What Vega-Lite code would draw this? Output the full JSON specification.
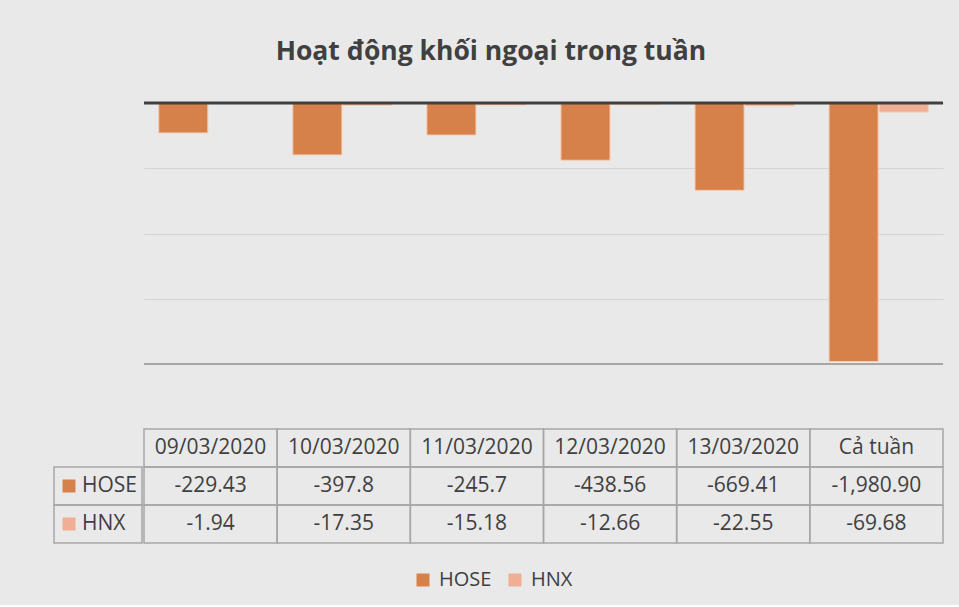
{
  "$schema": "https://vega.github.io/schema/vega-lite/v6.json",
  "background": "#e9e9e9",
  "padding": {"left": 53, "top": 39, "right": 17, "bottom": 15},
  "config": {"view": {"stroke": null}, "font": "Open Sans"},
  "title": {"text": "Hoạt động khối ngoại trong tuần", "fontSize": 26.5, "fontWeight": "bold", "color": "#404040", "font": "Open Sans", "anchor": "middle", "offset": 36, "dx": -8},
  "datasets": {
    "flows": [
      {"date": "09/03/2020", "series": "HOSE", "value": -229.43, "label": "-229.43"},
      {"date": "10/03/2020", "series": "HOSE", "value": -397.8, "label": "-397.8"},
      {"date": "11/03/2020", "series": "HOSE", "value": -245.7, "label": "-245.7"},
      {"date": "12/03/2020", "series": "HOSE", "value": -438.56, "label": "-438.56"},
      {"date": "13/03/2020", "series": "HOSE", "value": -669.41, "label": "-669.41"},
      {"date": "Cả tuần", "series": "HOSE", "value": -1980.9, "label": "-1,980.90"},
      {"date": "09/03/2020", "series": "HNX", "value": -1.94, "label": "-1.94"},
      {"date": "10/03/2020", "series": "HNX", "value": -17.35, "label": "-17.35"},
      {"date": "11/03/2020", "series": "HNX", "value": -15.18, "label": "-15.18"},
      {"date": "12/03/2020", "series": "HNX", "value": -12.66, "label": "-12.66"},
      {"date": "13/03/2020", "series": "HNX", "value": -22.55, "label": "-22.55"},
      {"date": "Cả tuần", "series": "HNX", "value": -69.68, "label": "-69.68"}
    ]
  },
  "data": {"name": "flows"},
  "spacing": 63,
  "vconcat": [
    {
      "spacing": 0,
      "hconcat": [
        {
          "width": 88,
          "height": 261,
          "data": {"values": []},
          "mark": "rect",
          "encoding": {}
        },
        {
          "width": 799,
          "height": 261,
          "layer": [
            {
              "mark": {"type": "bar", "stroke": "#f6cdb3", "strokeWidth": 1},
              "encoding": {
                "x": {"field": "date", "type": "nominal", "scale": {"domain": ["09/03/2020", "10/03/2020", "11/03/2020", "12/03/2020", "13/03/2020", "Cả tuần"], "paddingInner": 0.26, "paddingOuter": 0.11}, "axis": null},
                "xOffset": {"field": "series", "type": "nominal", "scale": {"domain": ["HOSE", "HNX"], "paddingInner": 0.02}},
                "y": {"field": "value", "type": "quantitative", "scale": {"domain": [-2000, 0], "nice": false}, "axis": {"values": [-2000, -1500, -1000, -500, 0], "labels": false, "ticks": false, "domain": false, "title": null, "gridColor": "#d4d4d4", "gridWidth": 1.2}},
                "color": {
                  "field": "series", "type": "nominal",
                  "scale": {"domain": ["HOSE", "HNX"], "range": ["#d6804a", "#f0ae94"]},
                  "legend": {"orient": "none", "legendX": 359, "legendY": 467, "direction": "horizontal", "title": null, "symbolType": "square", "symbolSize": 169, "symbolStrokeWidth": 0, "symbolOpacity": 1, "labelFontSize": 20, "labelColor": "#404040", "labelFont": "Open Sans", "columnPadding": 13, "labelOffset": 6, "padding": 0}
                }
              }
            },
            {
              "data": {"values": [{}]},
              "mark": {"type": "rule", "color": "#a6a6a6", "strokeWidth": 2},
              "encoding": {"y": {"datum": -2000}}
            },
            {
              "data": {"values": [{}]},
              "mark": {"type": "rule", "color": "#404040", "strokeWidth": 3},
              "encoding": {"y": {"datum": 0}}
            }
          ]
        }
      ]
    },
    {
      "spacing": 0,
      "hconcat": [
        {
          "width": 88,
          "height": 114,
          "transform": [{"filter": "datum.date === 'Cả tuần'"}],
          "encoding": {
            "y": {"field": "series", "type": "nominal", "scale": {"domain": ["hdr", "HOSE", "HNX"], "paddingInner": 0, "paddingOuter": 0}, "axis": null},
            "x": {"datum": 0, "type": "quantitative", "scale": {"domain": [0, 1], "nice": false}, "axis": null}
          },
          "layer": [
            {
              "mark": {"type": "rect", "fill": "transparent", "stroke": "#a6a6a6", "strokeWidth": 1.5},
              "encoding": {"x2": {"datum": 1}}
            },
            {
              "mark": {"type": "point", "shape": "square", "filled": true, "size": 169, "xOffset": 15, "opacity": 1},
              "encoding": {
                "color": {"field": "series", "type": "nominal", "scale": {"domain": ["HOSE", "HNX"], "range": ["#d6804a", "#f0ae94"]}, "legend": {"orient": "none", "legendX": 359, "legendY": 467, "direction": "horizontal", "title": null, "symbolType": "square", "symbolSize": 169, "symbolStrokeWidth": 0, "symbolOpacity": 1, "labelFontSize": 20, "labelColor": "#404040", "labelFont": "Open Sans", "columnPadding": 13, "labelOffset": 6, "padding": 0}}
              }
            },
            {
              "mark": {"type": "text", "align": "left", "baseline": "middle", "xOffset": 28, "fontSize": 21, "color": "#404040"},
              "encoding": {"text": {"field": "series"}}
            }
          ]
        },
        {
          "width": 799,
          "height": 114,
          "encoding": {
            "x": {"field": "date", "type": "nominal", "scale": {"domain": ["09/03/2020", "10/03/2020", "11/03/2020", "12/03/2020", "13/03/2020", "Cả tuần"], "paddingInner": 0, "paddingOuter": 0}, "axis": null}
          },
          "layer": [
            {
              "mark": {"type": "rect", "fill": "transparent", "stroke": "#a6a6a6", "strokeWidth": 1.5},
              "encoding": {"y": {"field": "series", "type": "nominal", "scale": {"domain": ["hdr", "HOSE", "HNX"], "paddingInner": 0, "paddingOuter": 0}, "axis": null}}
            },
            {
              "transform": [{"filter": "datum.series === 'HOSE'"}],
              "mark": {"type": "rect", "fill": "transparent", "stroke": "#a6a6a6", "strokeWidth": 1.5},
              "encoding": {"y": {"datum": "hdr", "type": "nominal"}}
            },
            {
              "mark": {"type": "text", "baseline": "middle", "fontSize": 21, "color": "#404040"},
              "encoding": {"y": {"field": "series", "type": "nominal"}, "text": {"field": "label"}}
            },
            {
              "transform": [{"filter": "datum.series === 'HOSE'"}],
              "mark": {"type": "text", "baseline": "middle", "fontSize": 21, "color": "#404040"},
              "encoding": {"y": {"datum": "hdr", "type": "nominal"}, "text": {"field": "date"}}
            }
          ]
        }
      ]
    }
  ]
}
